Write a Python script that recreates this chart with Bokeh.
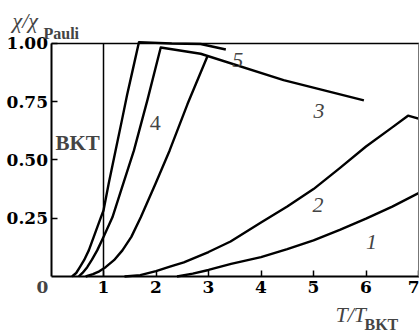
from bokeh.plotting import figure
from bokeh.models import Range1d, FixedTicker, PrintfTickFormatter, Label, LinearAxis
from bokeh.embed import file_html
from bokeh.resources import INLINE

# ---- data ----
# curve "5": rise, then nearly flat branch
c5_x = [0.40, 0.48, 0.55, 0.63, 0.72, 0.83, 0.95, 1.0, 1.1, 1.23, 1.35, 1.45, 1.56, 1.676, 2.3, 2.85, 3.33]
c5_y = [0.0, 0.015, 0.04, 0.07, 0.112, 0.18, 0.254, 0.283, 0.40, 0.541, 0.67, 0.78, 0.89, 1.006, 1.0, 0.998, 0.974]
# curve "4": rise, then falling branch "3"
c4_x = [0.53, 0.60, 0.69, 0.78, 0.88, 1.0, 1.17, 1.35, 1.58, 1.84, 2.09, 2.85, 4.43, 5.96]
c4_y = [0.0, 0.015, 0.04, 0.072, 0.112, 0.169, 0.254, 0.38, 0.541, 0.76, 0.983, 0.956, 0.843, 0.756]
# curve "3": rise, joining the falling branch
c3_x = [0.66, 0.80, 0.92, 1.04, 1.20, 1.36, 1.53, 1.71, 1.99, 2.26, 2.60, 2.98]
c3_y = [0.0, 0.01, 0.022, 0.04, 0.07, 0.112, 0.17, 0.254, 0.398, 0.541, 0.74, 0.945]
# curve "2"
c2_x = [1.4, 1.7, 2.0, 2.28, 2.53, 3.0, 3.42, 4.0, 4.5, 5.0, 5.5, 6.0, 6.5, 6.8, 7.02]
c2_y = [0.0, 0.006, 0.023, 0.043, 0.061, 0.105, 0.15, 0.232, 0.30, 0.375, 0.465, 0.558, 0.64, 0.69, 0.676]
# curve "1"
c1_x = [2.4, 2.7, 3.0, 3.43, 4.0, 4.5, 5.0, 5.5, 6.0, 6.5, 7.02]
c1_y = [0.0, 0.012, 0.028, 0.054, 0.083, 0.117, 0.155, 0.20, 0.248, 0.30, 0.36]

bkt_T = 1.0
bkt_y = [0.0, 1.0]
x_ticks = [1, 2, 3, 4, 5, 6, 7]
y_ticks = [0.25, 0.50, 0.75, 1.00]

# curve labels: (text, x, y)
curve_labels = [("5", 3.45, 0.927), ("4", 1.88, 0.657), ("3", 5.0, 0.712), ("2", 4.98, 0.305), ("1", 6.0, 0.146)]

SERIF = "Liberation Serif"
TICKFONT = "DejaVu Serif"

# frame covers the whole canvas; axes are pinned at x=0 / y=0
p = figure(width=419, height=334, output_backend="svg", toolbar_location=None,
           x_range=Range1d(-0.962, 7.019), y_range=Range1d(-0.249, 1.1845),
           min_border=0, min_border_left=0, min_border_right=0,
           min_border_top=0, min_border_bottom=0)
p.xgrid.visible = False
p.ygrid.visible = False
p.background_fill_color = "white"
p.border_fill_color = "white"
p.outline_line_color = None

for ax in (p.xaxis[0], p.yaxis[0]):
    ax.fixed_location = 0
    ax.axis_line_width = 2
    ax.axis_line_color = "black"
    ax.major_tick_in = 6
    ax.major_tick_out = 0
    ax.major_tick_line_width = 1.5
    ax.minor_tick_line_color = None
    ax.major_label_text_font = TICKFONT
    ax.major_label_text_font_size = "17px"
    ax.major_label_text_font_style = "bold"
    ax.major_label_text_color = "black"

p.xaxis.bounds = (0, 7.02)
p.xaxis.ticker = FixedTicker(ticks=x_ticks)
p.xaxis.major_label_standoff = 5
p.yaxis.bounds = (0, 1)
p.yaxis.ticker = FixedTicker(ticks=y_ticks)
p.yaxis.formatter = PrintfTickFormatter(format="%.2f")
p.yaxis.major_label_standoff = 3

# top and right edges of the box (no ticks, no labels)
top = LinearAxis(fixed_location=1.0, bounds=(0, 7.02), ticker=FixedTicker(ticks=[]),
                 major_tick_line_color=None, minor_tick_line_color=None,
                 axis_line_color="black", axis_line_width=1.5)
right = LinearAxis(fixed_location=7.0, bounds=(0, 1), ticker=FixedTicker(ticks=[]),
                   major_tick_line_color=None, minor_tick_line_color=None,
                   axis_line_color="#777777", axis_line_width=1)
p.add_layout(top, "above")
p.add_layout(right, "right")

# BKT temperature marker
p.line([bkt_T, bkt_T], bkt_y, line_color="black", line_width=1.5)

for xs, ys in ((c5_x, c5_y), (c4_x, c4_y), (c3_x, c3_y), (c2_x, c2_y), (c1_x, c1_y)):
    p.line(xs, ys, line_color="black", line_width=2.4, line_join="round")

for txt, lx, ly in curve_labels:
    p.add_layout(Label(x=lx, y=ly, text=txt, text_font=SERIF, text_font_size="22px",
                       text_font_style="italic" if txt != "4" else "normal",
                       text_baseline="alphabetic", text_align="left"))

# origin tick label
p.add_layout(Label(x=-0.162, y=-0.0215, text="0", text_font=TICKFONT, text_font_size="17px",
                   text_font_style="bold", text_align="center", text_baseline="top"))

# BKT marker label
p.add_layout(Label(x=0.086, y=0.575, text="BKT", text_font=SERIF, text_font_size="21px",
                   text_font_style="bold", text_baseline="alphabetic"))

# y axis title chi/chi_Pauli
p.add_layout(Label(x=-0.733, y=1.0987, text="χ/χ", text_font=SERIF, text_font_size="22px",
                   text_font_style="italic", text_baseline="alphabetic"))
p.add_layout(Label(x=-0.143, y=1.043, text="Pauli", text_font=SERIF, text_font_size="16px",
                   text_font_style="bold", text_baseline="alphabetic"))

# x axis title T/T_BKT
p.add_layout(Label(x=5.419, y=-0.165, text="T/T", text_font=SERIF, text_font_size="22px",
                   text_font_style="italic", text_baseline="alphabetic"))
p.add_layout(Label(x=5.971, y=-0.205, text="BKT", text_font=SERIF, text_font_size="16px",
                   text_font_style="bold", text_baseline="alphabetic"))

open("out.html", "w").write(file_html(p, INLINE))
